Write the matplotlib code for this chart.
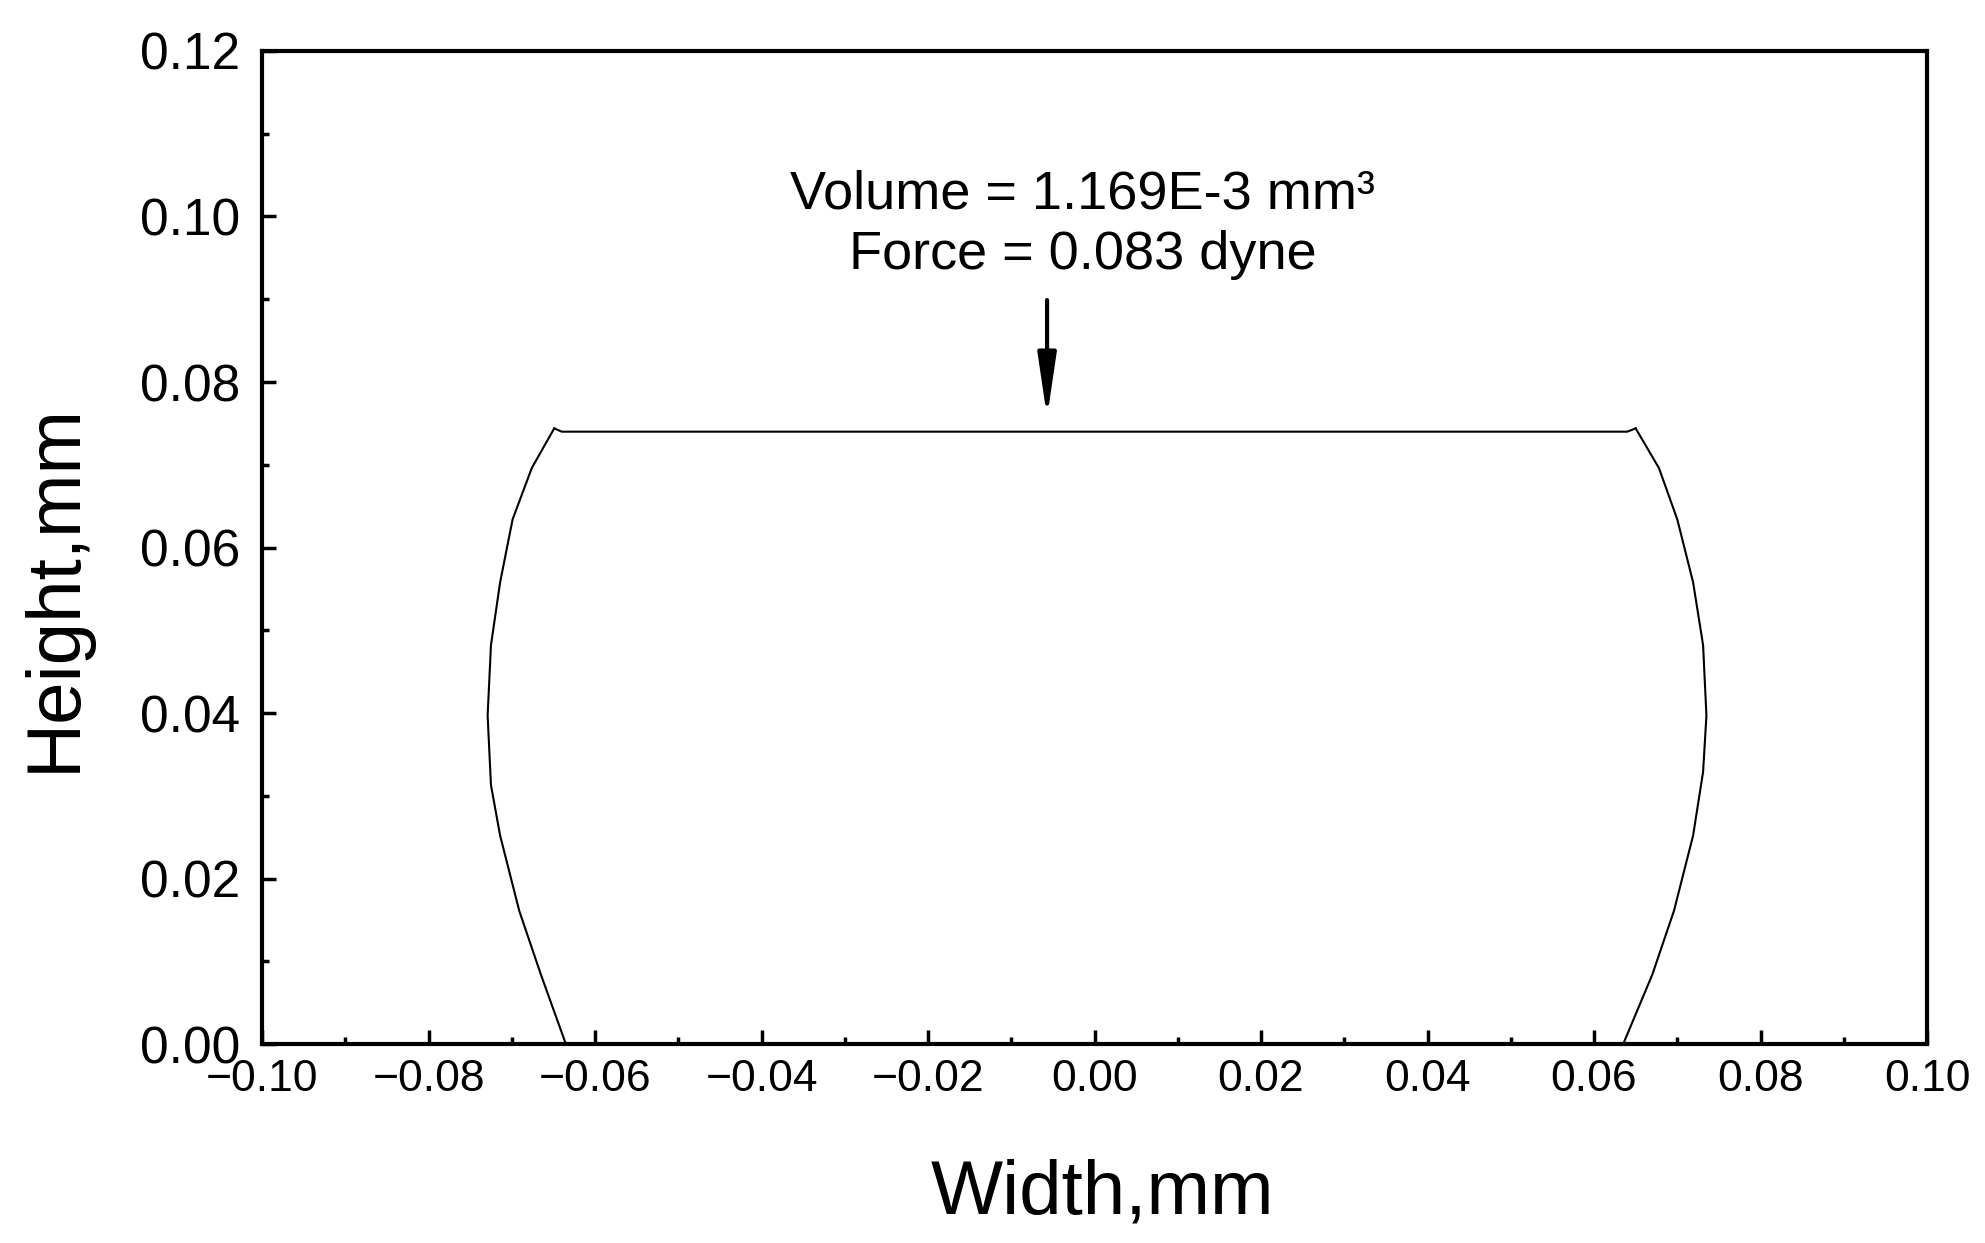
import matplotlib
matplotlib.use("Agg")
import matplotlib.pyplot as plt
from matplotlib.ticker import MultipleLocator, FuncFormatter

plt.rcParams['font.family'] = ['Liberation Sans', 'DejaVu Sans']

# drop profile (mm)
left_x = [-0.0635, -0.0665, -0.0691, -0.0714, -0.0725, -0.0729, -0.0725, -0.0714, -0.0699, -0.0676, -0.0649]
left_y = [0.0, 0.0084, 0.0161, 0.0252, 0.0313, 0.0397, 0.0482, 0.0558, 0.0634, 0.0696, 0.0744]
top_x = [-0.0649, -0.0640, 0.0640, 0.0650]
top_y = [0.0744, 0.0740, 0.0740, 0.0744]
right_x = [0.0650, 0.0678, 0.0700, 0.0719, 0.0731, 0.0735, 0.0731, 0.0719, 0.0696, 0.0670, 0.0635]
right_y = [0.0744, 0.0696, 0.0634, 0.0558, 0.0482, 0.0397, 0.0329, 0.0252, 0.0161, 0.0084, 0.0]

volume_text = "Volume = 1.169E-3 mm\u00b3"
force_text = "Force = 0.083 dyne"
arrow_x = -0.0057


def fmt(v, pos):
    if abs(v) < 1e-9:
        v = 0.0
    return ('%.2f' % v).replace('-', '\u2212')


fig = plt.figure(figsize=(19.85, 12.43), dpi=100)
ax = fig.add_axes([0.132, 0.160, 0.8388, 0.799])

ax.plot(left_x, left_y, color='black', lw=1.5)
ax.plot(top_x, top_y, color='black', lw=1.5)
ax.plot(right_x, right_y, color='black', lw=1.5)

ax.set_xlim(-0.10, 0.10)
ax.set_ylim(0.0, 0.12)
ax.xaxis.set_major_locator(MultipleLocator(0.02))
ax.xaxis.set_minor_locator(MultipleLocator(0.01))
ax.yaxis.set_major_locator(MultipleLocator(0.02))
ax.yaxis.set_minor_locator(MultipleLocator(0.01))
ax.xaxis.set_major_formatter(FuncFormatter(fmt))
ax.yaxis.set_major_formatter(FuncFormatter(fmt))

ax.tick_params(which='both', direction='in', width=2.5)
ax.tick_params(which='major', length=10)
ax.tick_params(which='minor', length=5)
ax.tick_params(axis='x', pad=11, labelsize=32)
ax.tick_params(axis='y', pad=16, labelsize=37)
for s in ax.spines.values():
    s.set_linewidth(3)

ax.set_xlabel('Width,mm', fontsize=55)
ax.set_ylabel('Height,mm', fontsize=55)
ax.xaxis.set_label_coords(0.505, -0.115)
ax.yaxis.set_label_coords(-0.103, 0.46)

ax.text(-0.0014, 0.1027, volume_text, fontsize=39, ha='center', va='center')
ax.text(-0.0014, 0.0953, force_text, fontsize=39, ha='center', va='center')
ax.annotate('', xy=(arrow_x, 0.0757), xytext=(arrow_x, 0.0899),
            arrowprops=dict(arrowstyle='-|>,head_length=0.95,head_width=0.14',
                            color='black', lw=3, mutation_scale=40,
                            shrinkA=0, shrinkB=0))

fig.savefig('out.png', dpi=100)
